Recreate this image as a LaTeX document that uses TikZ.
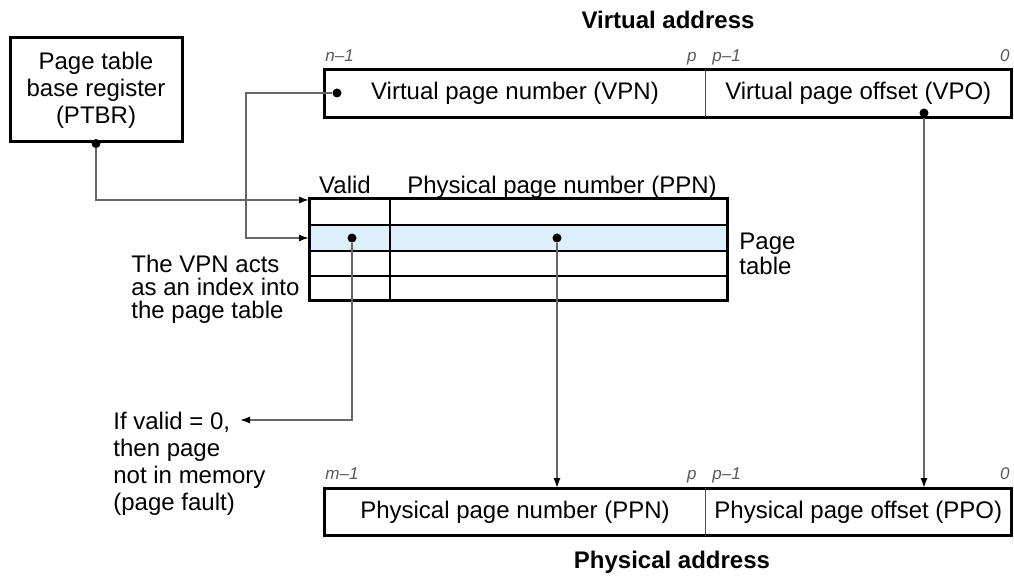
\documentclass[tikz,border=0pt]{standalone}
\usepackage{fontspec}
\setmainfont{Liberation Sans}
\usepackage{xcolor}
\usetikzlibrary{arrows.meta, positioning, calc}

\definecolor{rowblue}{HTML}{DDEFFA}

\begin{document}
\begin{tikzpicture}[
    x=0.5pt, y=-0.5pt,
    every node/.style={font=\fontsize{12}{13.5}\selectfont},
    reg/.style={draw, line width=1.5pt, minimum width=86pt, minimum height=52pt, align=center, inner sep=0pt},
    field/.style={minimum height=23.5pt, inner sep=0pt},
    bit/.style={font=\fontsize{8.5}{10}\selectfont\itshape, text=black!65, inner sep=0pt},
    title/.style={font=\fontsize{12}{14}\selectfont\bfseries},
    note/.style={align=left, inner sep=0pt},
    link/.style={draw=black!60, line width=0.9pt},
    arr/.style={link, -{Latex[length=5pt, width=3.6pt, color=black]}},
    dot/.style={circle, fill=black, inner sep=0pt, minimum size=4.5pt}
]
    \useasboundingbox (0,0) rectangle (1014,577);

    \node[reg] (ptbr) at (96,90) {Page table\\base register\\(PTBR)};

    \node[title] (va) at (668,20) {Virtual address};
    \node[field, minimum width=190pt] (vpn) at (515,93.5) {Virtual page number (VPN)};
    \node[field, minimum width=152.5pt, right=0pt of vpn] (vpo) {Virtual page offset (VPO)};
    \draw[line width=1.5pt] (vpn.north west) rectangle (vpo.south east);
    \draw[line width=0.8pt, black!70] (vpn.north east) -- (vpn.south east);
    \node[bit, anchor=base west] (vn1) at (325,62) {n--1};
    \node[bit, anchor=base east] (vp) at (697,62) {p};
    \node[bit, anchor=base west] (vp1) at (712,62) {p--1};
    \node[bit, anchor=base east] (v0) at (1010,62) {0};

    \fill[rowblue] (309,225) rectangle (727,251);
    \foreach \y in {225,251,276}
        \draw[line width=1pt] (309,\y) -- (727,\y);
    \draw[line width=1pt] (390,199) -- (390,301);
    \draw[line width=1.5pt] (309,199) rectangle (727,301);
    \node[anchor=base] (validlbl) at (345,194) {Valid};
    \node[anchor=base] (ppnlbl) at (562,194) {Physical page number (PPN)};
    \node[note, anchor=north west, font=\fontsize{12}{11}\selectfont] (ptlbl) at (739,233) {Page\\table};
    \node[note, anchor=north west, font=\fontsize{12}{11.5}\selectfont] (index) at (131,255) {The VPN acts\\as an index into\\the page table};
    \coordinate (row0) at (309,200);
    \coordinate (row1) at (309,238);
    \coordinate (vpnbend) at (246,238);

    \node[title] (pa) at (672,562) {Physical address};
    \node[field, minimum width=190pt] (ppn) at (515,512) {Physical page number (PPN)};
    \node[field, minimum width=152.5pt, right=0pt of ppn] (ppo) {Physical page offset (PPO)};
    \draw[line width=1.5pt] (ppn.north west) rectangle (ppo.south east);
    \draw[line width=0.8pt, black!70] (ppn.north east) -- (ppn.south east);
    \node[bit, anchor=base west] (pm1) at (325,480) {m--1};
    \node[bit, anchor=base east] (pp) at (697,480) {p};
    \node[bit, anchor=base west] (pp1) at (712,480) {p--1};
    \node[bit, anchor=base east] (p0) at (1010,480) {0};

    \node[note, anchor=north west] (fault) at (113,412) {If valid = 0,\\then page\\not in memory\\(page fault)};
    \coordinate (faultpt) at (240,420);

    \node[dot] (ptbrdot) at (ptbr.south) {};
    \node[dot] (vpndot) at (337,93) {};
    \node[dot] (vdot) at (352,238) {};
    \node[dot] (pdot) at (557,238) {};
    \node[dot] (vpodot) at (924,113) {};

    \draw[arr] (ptbrdot) |- (row0);
    \draw[arr] (vpndot) -| (vpnbend) -- (row1);
    \draw[arr] (vdot) |- (faultpt);
    \draw[arr] (pdot) -- (pdot |- ppn.north);
    \draw[arr] (vpodot) -- (vpodot |- ppo.north);
\end{tikzpicture}
\end{document}
